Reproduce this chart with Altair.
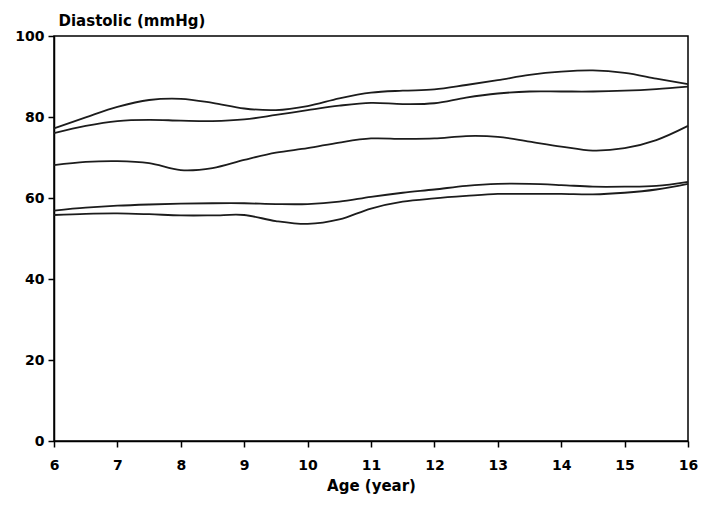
import altair as alt
import pandas as pd

ages = [6, 6.5, 7, 7.5, 8, 8.5, 9, 9.5, 10, 10.5, 11, 11.5, 12, 12.5, 13, 13.5, 14, 14.5, 15, 15.5, 16]

curve_1 = [77.2, 79.9, 82.5, 84.2, 84.5, 83.5, 82.1, 81.7, 82.7, 84.6, 86.0, 86.5, 86.8, 87.9, 89.1, 90.4, 91.2, 91.5, 90.9, 89.5, 88.1]
curve_2 = [76.0, 77.8, 79.0, 79.3, 79.1, 79.0, 79.4, 80.5, 81.7, 82.8, 83.5, 83.2, 83.4, 84.8, 85.8, 86.3, 86.3, 86.3, 86.5, 86.9, 87.5]
curve_3 = [68.1, 68.9, 69.1, 68.6, 66.9, 67.4, 69.4, 71.2, 72.3, 73.7, 74.7, 74.6, 74.7, 75.3, 75.1, 73.9, 72.7, 71.7, 72.3, 74.3, 77.8]
curve_4 = [56.9, 57.6, 58.1, 58.4, 58.6, 58.7, 58.7, 58.5, 58.5, 59.1, 60.3, 61.3, 62.1, 63.0, 63.5, 63.5, 63.2, 62.8, 62.8, 63.0, 64.0]
curve_5 = [55.8, 56.1, 56.2, 56.0, 55.7, 55.7, 55.8, 54.3, 53.6, 54.7, 57.4, 59.1, 59.9, 60.5, 61.0, 61.0, 61.0, 60.9, 61.3, 62.1, 63.5]

x_ticks = [6, 7, 8, 9, 10, 11, 12, 13, 14, 15, 16]
y_ticks = [0, 20, 40, 60, 80, 100]

series = {"c1": curve_1, "c2": curve_2, "c3": curve_3, "c4": curve_4, "c5": curve_5}
rows = []
for name, vals in series.items():
    for a, v in zip(ages, vals):
        rows.append({"series": name, "age": a, "value": v})
df = pd.DataFrame(rows)

FONT = "DejaVu Sans"

chart = alt.Chart(df).mark_line(
    interpolate="catmull-rom", color="#1c1c1c", strokeWidth=1.8
).encode(
    x=alt.X(
        "age:Q",
        scale=alt.Scale(domain=[6, 16], nice=False, zero=False),
        axis=alt.Axis(
            values=x_ticks, title="Age (year)", format="d",
            labelPadding=11, titlePadding=6, labelFlush=False,
        ),
    ),
    y=alt.Y(
        "value:Q",
        scale=alt.Scale(domain=[0, 100], nice=False),
        axis=alt.Axis(
            values=y_ticks, title="Diastolic (mmHg)",
            titleAngle=0, titleAlign="left", titleBaseline="alphabetic",
            titleX=4, titleY=-11, labelPadding=4, labelFlush=False,
        ),
    ),
    detail="series:N",
).properties(
    width=634, height=405,
    autosize="none",
    padding={"left": 46, "top": 28, "right": 12, "bottom": 54},
).configure_view(
    stroke="black", strokeWidth=1.5
).configure_axis(
    grid=False,
    domainColor="black", domainWidth=1.5,
    tickColor="black", tickWidth=1.5, tickSize=6,
    labelFont=FONT, labelFontSize=14, labelFontWeight="bold", labelColor="black",
    titleFont=FONT, titleFontSize=15, titleFontWeight="bold", titleColor="black",
)

chart.save("out.html", embed_options={"renderer": "svg", "actions": False})
